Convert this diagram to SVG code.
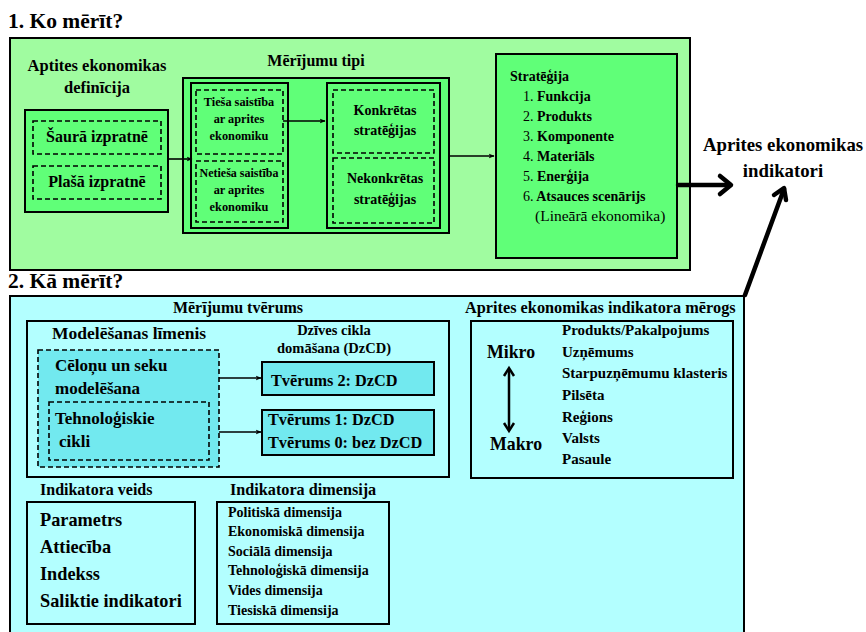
<svg xmlns="http://www.w3.org/2000/svg" width="866" height="632" viewBox="0 0 866 632">
  <style>
    text { font-weight: bold; fill: #000; }
    .n { font-weight: normal; }
    .c { text-anchor: middle; }
    .box { stroke: #000; stroke-width: 2; }
    .dash { stroke: #000; stroke-width: 1.6; stroke-dasharray: 5 3; }
    .g1 { fill: #a0fca0; }
    .g2 { fill: #60ff78; }
    .c1 { fill: #b3ffff; }
    .c2 { fill: #72e9ef; }
    .thin { stroke: #000; stroke-width: 1.6; fill: none; }
    .thick { stroke: #000; stroke-width: 4.5; fill: none; stroke-linecap: round; stroke-linejoin: round; }
  </style>
  <defs>
    <marker id="ah" viewBox="0 0 10 10" refX="9" refY="5" markerWidth="6" markerHeight="6" orient="auto" markerUnits="userSpaceOnUse">
      <path d="M0,1 L10,5 L0,9 L3,5 Z" fill="#000"/>
    </marker>
  </defs>

  <rect width="866" height="632" fill="#fff"/>

  <g font-family="'Liberation Serif', 'Times New Roman', Times, serif">

  <!-- Section 1 -->
  <g id="section1">
    <text x="8" y="28" font-size="21.5">1. Ko mērīt?</text>
    <rect class="box g1" x="10" y="38" width="680" height="232"/>
  </g>

  <g id="definicija">
    <text class="c" x="97" y="71" font-size="16.5">Aptites ekonomikas</text>
    <text class="c" x="97" y="93" font-size="16.5">definīcija</text>
    <rect class="box g2" x="25" y="110" width="143" height="102"/>
    <rect class="dash g2" x="33" y="121" width="128" height="33"/>
    <text class="c" x="97" y="142" font-size="16">Šaurā izpratnē</text>
    <rect class="dash g2" x="33" y="166" width="128" height="33"/>
    <text class="c" x="97" y="187" font-size="16">Plašā izpratnē</text>
  </g>

  <g id="merijumu-tipi">
    <text class="c" x="316" y="66" font-size="16">Mērījumu tipi</text>
    <rect class="box g2" x="183" y="78" width="266" height="155"/>
    <rect class="box g2" x="191" y="83" width="97" height="145"/>
    <rect class="dash g2" x="196" y="90" width="87" height="64"/>
    <text class="c" x="239" y="106" font-size="12.3">Tieša saistība</text>
    <text class="c" x="239" y="123" font-size="12.3">ar aprites</text>
    <text class="c" x="239" y="140" font-size="12.3">ekonomiku</text>
    <rect class="dash g2" x="196" y="161" width="87" height="61"/>
    <text class="c" x="239" y="177" font-size="12">Netieša saistība</text>
    <text class="c" x="239" y="194" font-size="12.3">ar aprites</text>
    <text class="c" x="239" y="211" font-size="12.3">ekonomiku</text>
    <rect class="box g2" x="327" y="83" width="113" height="145"/>
    <rect class="dash g2" x="333" y="90" width="101" height="63"/>
    <text class="c" x="385" y="115" font-size="14">Konkrētas</text>
    <text class="c" x="385" y="135" font-size="14">stratēģijas</text>
    <rect class="dash g2" x="333" y="158" width="101" height="65"/>
    <text class="c" x="385" y="183" font-size="14">Nekonkrētas</text>
    <text class="c" x="385" y="204" font-size="14">stratēģijas</text>
  </g>

  <g id="strategija">
    <rect class="box g2" x="496" y="54" width="181" height="204"/>
    <text x="510" y="81" font-size="14">Stratēģija</text>
    <text x="523" y="101" font-size="14"><tspan class="n">1.</tspan> Funkcija</text>
    <text x="523" y="121" font-size="14"><tspan class="n">2.</tspan> Produkts</text>
    <text x="523" y="141" font-size="14"><tspan class="n">3.</tspan> Komponente</text>
    <text x="523" y="161" font-size="14"><tspan class="n">4.</tspan> Materiāls</text>
    <text x="523" y="181" font-size="14"><tspan class="n">5.</tspan> Enerģija</text>
    <text x="523" y="201" font-size="14"><tspan class="n">6.</tspan> Atsauces scenārijs</text>
    <text class="n" x="535" y="221" font-size="15.5">(Lineārā ekonomika)</text>
  </g>

  <g id="indikatori">
    <text class="c" x="783" y="151" font-size="18.8">Aprites ekonomikas</text>
    <text class="c" x="783" y="177" font-size="18.8">indikatori</text>
  </g>

  <!-- Section 2 -->
  <g id="section2">
    <text x="8" y="288" font-size="21.5">2. Kā mērīt?</text>
    <rect class="box c1" x="10" y="296" width="734" height="350"/>
  </g>

  <g id="merijumu-tverums">
    <text class="c" x="238" y="313" font-size="16">Mērījumu tvērums</text>
    <rect class="box c1" x="27" y="321" width="422" height="156"/>
    <text x="52" y="339" font-size="17.5">Modelēšanas līmenis</text>
    <rect class="dash c2" x="38" y="350" width="181" height="117"/>
    <text x="55" y="371" font-size="17">Cēloņu un seku</text>
    <text x="55" y="394" font-size="17">modelēšana</text>
    <rect class="dash c2" x="49" y="402" width="160" height="58"/>
    <text x="55" y="424" font-size="17">Tehnoloģiskie</text>
    <text x="59" y="447" font-size="17">cikli</text>
    <text class="c" x="334" y="335" font-size="14.5">Dzīves cikla</text>
    <text class="c" x="334" y="353" font-size="14.5">domāšana (DzCD)</text>
    <rect class="box c2" x="262" y="362" width="172" height="33"/>
    <text x="271" y="386" font-size="16.3">Tvērums 2: DzCD</text>
    <rect class="box c2" x="262" y="410" width="172" height="45"/>
    <text x="268" y="425" font-size="16.3">Tvērums 1: DzCD</text>
    <text x="268" y="448" font-size="16.3">Tvērums 0: bez DzCD</text>
  </g>

  <g id="merogs">
    <text x="465" y="313" font-size="16.3">Aprites ekonomikas indikatora mērogs</text>
    <rect class="box c1" x="471" y="321" width="262" height="157"/>
    <text x="487" y="358" font-size="17.8">Mikro</text>
    <text x="490" y="450" font-size="17.8">Makro</text>
    <text x="562" y="335" font-size="15">Produkts/Pakalpojums</text>
    <text x="562" y="357" font-size="15">Uzņēmums</text>
    <text x="562" y="378" font-size="15">Starpuzņēmumu klasteris</text>
    <text x="562" y="400" font-size="15">Pilsēta</text>
    <text x="562" y="422" font-size="15">Reģions</text>
    <text x="562" y="443" font-size="15">Valsts</text>
    <text x="562" y="464" font-size="15">Pasaule</text>
  </g>

  <g id="indikatora-veids">
    <text x="40" y="495" font-size="16">Indikatora veids</text>
    <rect class="box c1" x="27" y="502" width="168" height="122"/>
    <text x="40" y="526" font-size="18.3">Parametrs</text>
    <text x="40" y="553" font-size="18.3">Attiecība</text>
    <text x="40" y="580" font-size="18.3">Indekss</text>
    <text x="40" y="607" font-size="18.3">Saliktie indikatori</text>
  </g>

  <g id="indikatora-dimensija">
    <text x="230" y="495" font-size="16.2">Indikatora dimensija</text>
    <rect class="box c1" x="217" y="502" width="172" height="122"/>
    <text x="228" y="517" font-size="14">Politiskā dimensija</text>
    <text x="228" y="536" font-size="14">Ekonomiskā dimensija</text>
    <text x="228" y="556" font-size="14">Sociālā dimensija</text>
    <text x="228" y="575" font-size="14">Tehnoloģiskā dimensija</text>
    <text x="228" y="595" font-size="14">Vides dimensija</text>
    <text x="228" y="615" font-size="14">Tiesiskā dimensija</text>
  </g>

  </g>

  <!-- Connectors -->
  <g id="connectors">
    <line class="thin" x1="168" y1="159" x2="192" y2="159" marker-end="url(#ah)"/>
    <line class="thin" x1="283" y1="121" x2="325" y2="121" marker-end="url(#ah)"/>
    <line class="thin" x1="449" y1="156" x2="494" y2="156" marker-end="url(#ah)"/>
    <line class="thin" x1="219" y1="378" x2="261" y2="378" marker-end="url(#ah)"/>
    <line class="thin" x1="219" y1="432" x2="261" y2="432" marker-end="url(#ah)"/>
    <!-- Mikro / Makro two-way arrow -->
    <line x1="509" y1="370" x2="509" y2="429" stroke="#000" stroke-width="2.5"/>
    <polyline points="504,376 509,368 514,376" stroke="#000" stroke-width="2.5" fill="none" stroke-linejoin="miter"/>
    <polyline points="504,423 509,431 514,423" stroke="#000" stroke-width="2.5" fill="none" stroke-linejoin="miter"/>
    <!-- thick arrows toward the indicators label -->
    <line class="thick" x1="678" y1="185" x2="730" y2="185"/>
    <polyline class="thick" points="720,176 731,185 720,194"/>
    <line class="thick" x1="745" y1="295" x2="784" y2="189"/>
    <polyline class="thick" points="774,195 784,188 786,200"/>
  </g>
</svg>
